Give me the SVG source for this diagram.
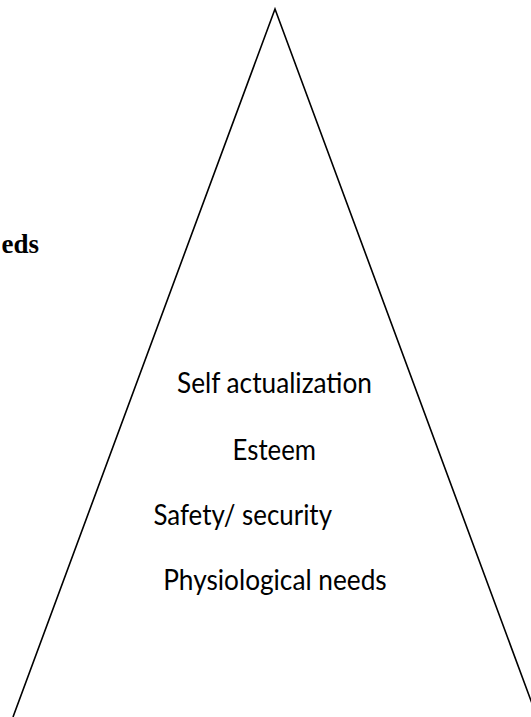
<svg xmlns="http://www.w3.org/2000/svg" width="531" height="717" viewBox="0 0 531 717">
<style>
.lbl{font-family:Lato,"Open Sans","Liberation Sans",sans-serif;font-size:28px;fill:#000}
.title{font-family:"Liberation Serif","Times New Roman",serif;font-size:27px;font-weight:bold;fill:#000}
.edge{fill:none;stroke:#000;stroke-width:1.6;stroke-linejoin:miter}
</style>
<rect width="531" height="717" fill="#fff"/>
<g id="connectors">
<path class="edge" d="M13,717 L275,9 L537,717"/>
</g>
<g id="title"><text class="title" x="39" y="252.5" text-anchor="end">eds</text></g>
<g id="self-actualization"><text class="lbl" x="177" y="393" textLength="195" lengthAdjust="spacingAndGlyphs">Self actualization</text></g>
<g id="esteem"><text class="lbl" x="232.6" y="459.5" textLength="83.4" lengthAdjust="spacingAndGlyphs">Esteem</text></g>
<g id="safety"><text class="lbl" x="153.4" y="525" textLength="178.6" lengthAdjust="spacingAndGlyphs">Safety/ security</text></g>
<g id="physiological"><text class="lbl" x="163.2" y="590" textLength="223.5" lengthAdjust="spacingAndGlyphs">Physiological needs</text></g>
</svg>
